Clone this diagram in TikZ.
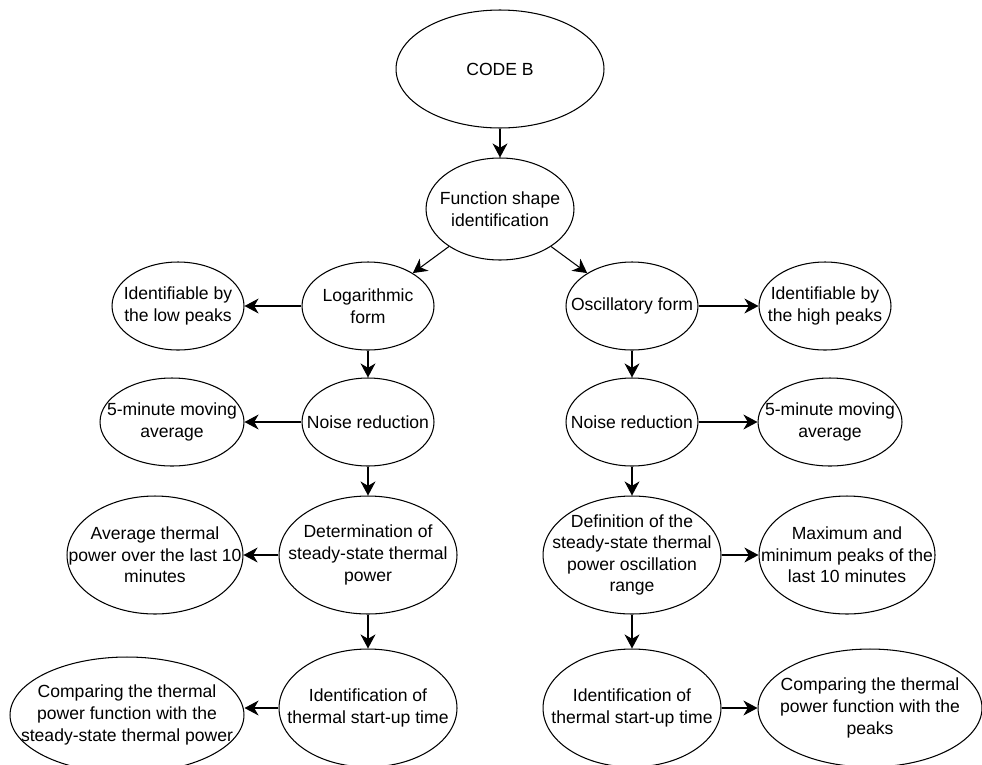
\documentclass[tikz,border=0pt]{standalone}
\usepackage{fontspec}
\setmainfont{Liberation Sans}
\usetikzlibrary{shapes.geometric,arrows.meta}

\tikzset{
  txt/.style={align=center, inner sep=0pt, font=\fontsize{10}{12.3}\selectfont},
  oval/.style n args={3}{draw, ellipse, line width=0.6pt, inner sep=0pt,
    minimum width=#1cm, minimum height=#2cm, label={[txt]center:{#3}}},
  arr/.style={line width=0.6pt, -{Stealth[length=8pt,width=8.5pt,inset=2.5pt]}}
}

\begin{document}
\begin{tikzpicture}[x=0.02cm,y=-0.02cm]
\clip (0,0) rectangle (982,764);

\node[oval={4.16}{2.36}{CODE B}] (code) at (500,69) {};
\node[oval={2.96}{2.04}{Function shape\\identification}] (shape) at (500,209) {};

% left branch
\node[oval={2.64}{1.76}{Logarithmic\\form}] (log) at (368,306) {};
\node[oval={2.64}{1.76}{Identifiable by\\the low peaks}] (low) at (178,306) {};
\node[oval={2.64}{1.76}{Noise reduction}] (noisel) at (368,422) {};
\node[oval={2.88}{1.76}{5-minute moving\\average}] (avgl) at (172,422) {};
\node[oval={3.56}{2.36}{Determination of\\steady-state thermal\\power}] (steady) at (368,555) {};
\node[oval={3.52}{2.36}{Average thermal\\power over the last 10\\minutes}] (mean) at (155,555) {};
\node[oval={3.56}{2.36}{Identification of\\thermal start-up time}] (startl) at (368,708) {};
\node[oval={4.68}{2.32}{Comparing the thermal\\power function with the\\steady-state thermal power}] (compl) at (127,715) {};

% right branch
\node[oval={2.64}{1.76}{Oscillatory form}] (osc) at (632,306) {};
\node[oval={2.64}{1.76}{Identifiable by\\the high peaks}] (high) at (825,306) {};
\node[oval={2.64}{1.76}{Noise reduction}] (noiser) at (632,422) {};
\node[oval={2.88}{1.76}{5-minute moving\\average}] (avgr) at (830,422) {};
\node[oval={3.56}{2.36}{Definition of the\\steady-state thermal\\power oscillation\\range}] (range) at (632,555) {};
\node[oval={3.52}{2.36}{Maximum and\\minimum peaks of the\\last 10 minutes}] (peaks) at (847,555) {};
\node[oval={3.56}{2.36}{Identification of\\thermal start-up time}] (startr) at (632,708) {};
\node[oval={4.48}{2.36}{Comparing the thermal\\power function with the\\peaks}] (compr) at (870,708) {};

\draw[arr] (code) -- (shape);
\draw[arr] (shape) -- (log);
\draw[arr] (shape) -- (osc);

\draw[arr] (log) -- (low);
\draw[arr] (log) -- (noisel);
\draw[arr] (noisel) -- (avgl);
\draw[arr] (noisel) -- (steady);
\draw[arr] (steady) -- (mean);
\draw[arr] (steady) -- (startl);
\draw[arr] (startl) -- (compl.east |- startl);

\draw[arr] (osc) -- (high);
\draw[arr] (osc) -- (noiser);
\draw[arr] (noiser) -- (avgr);
\draw[arr] (noiser) -- (range);
\draw[arr] (range) -- (peaks);
\draw[arr] (range) -- (startr);
\draw[arr] (startr) -- (compr);
\end{tikzpicture}
\end{document}
